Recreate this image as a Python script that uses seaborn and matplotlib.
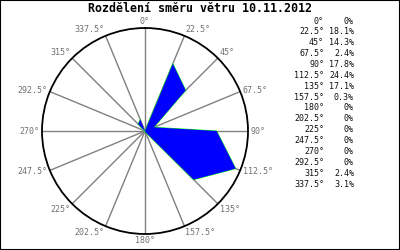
import numpy as np
import pandas as pd
import matplotlib
matplotlib.use("Agg")
import matplotlib.pyplot as plt
from matplotlib.patches import Rectangle
import seaborn as sns

# ---- data ----
directions = [0, 22.5, 45, 67.5, 90, 112.5, 135, 157.5,
              180, 202.5, 225, 247.5, 270, 292.5, 315, 337.5]
dir_labels = ["0°", "22.5°", "45°", "67.5°", "90°", "112.5°", "135°", "157.5°",
              "180°", "202.5°", "225°", "247.5°", "270°", "292.5°", "315°", "337.5°"]
percent = [0, 18.1, 14.3, 2.4, 17.8, 24.4, 17.1, 0.3,
           0, 0, 0, 0, 0, 0, 2.4, 3.1]
pct_labels = ["0%", "18.1%", "14.3%", "2.4%", "17.8%", "24.4%", "17.1%", "0.3%",
              "0%", "0%", "0%", "0%", "0%", "0%", "2.4%", "3.1%"]
title = "Rozdělení směru větru 10.11.2012"
r_max = 25.6

sns.set_theme(style="white")
plt.rcParams["font.family"] = ["DejaVu Sans Mono", "DejaVu Sans"]

fig = plt.figure(figsize=(4, 2.5), dpi=100)
fig.patch.set_facecolor("white")

ax = fig.add_axes([0.1050, 0.064, 0.515, 0.824], projection="polar")
ax.set_theta_zero_location("N")
ax.set_theta_direction(-1)

theta = np.deg2rad(directions + [directions[0]])
vals = percent + [percent[0]]
df = pd.DataFrame({"theta": theta, "value": vals})

sns.lineplot(data=df, x="theta", y="value", sort=False, ax=ax,
             color="#00ff00", linewidth=0.7, zorder=2)
ax.fill(df["theta"], df["value"], color="#0000ff", linewidth=0, zorder=3)

ax.set_ylim(0, r_max)
ax.set_yticks([])
ax.set_xticks(np.deg2rad(directions))
ax.set_xticklabels([])
ax.tick_params(axis="x", length=0)
ax.xaxis.grid(True, color="#808080", linewidth=1.0)
ax.set_xlabel("")
ax.set_ylabel("")
ax.spines["polar"].set_color("black")
ax.spines["polar"].set_linewidth(1.3)
ax.set_facecolor("white")

# direction labels just outside the circle
for d, lab in zip(directions, dir_labels):
    t = np.deg2rad(d)
    s, c = np.sin(t), np.cos(t)
    ha = "center" if abs(s) < 0.2 else ("left" if s > 0 else "right")
    va = "center" if abs(c) < 0.5 else ("bottom" if c > 0 else "top")
    ax.annotate(lab, xy=(t, r_max), xytext=(2.0 * s, 1.6 * c),
                textcoords="offset points", ha=ha, va=va,
                fontsize=6.0, color="#707070", annotation_clip=False)

fig.text(0.5, 0.965, title, ha="center", va="center", fontsize=8.4,
         fontweight="bold", color="black")

y0 = 1 - 21 / 250
dy = 10.87 / 250
for i, (dl, pl) in enumerate(zip(dir_labels, pct_labels)):
    y = y0 - i * dy
    fig.text(324 / 400, y, dl, ha="right", va="center", fontsize=6.0, color="#101010")
    fig.text(354 / 400, y, pl, ha="right", va="center", fontsize=6.0, color="#101010")

fig.add_artist(Rectangle((0, 0), 1, 1, transform=fig.transFigure, fill=False,
                         edgecolor="black", linewidth=1.5))

fig.savefig("out.png", dpi=100)
